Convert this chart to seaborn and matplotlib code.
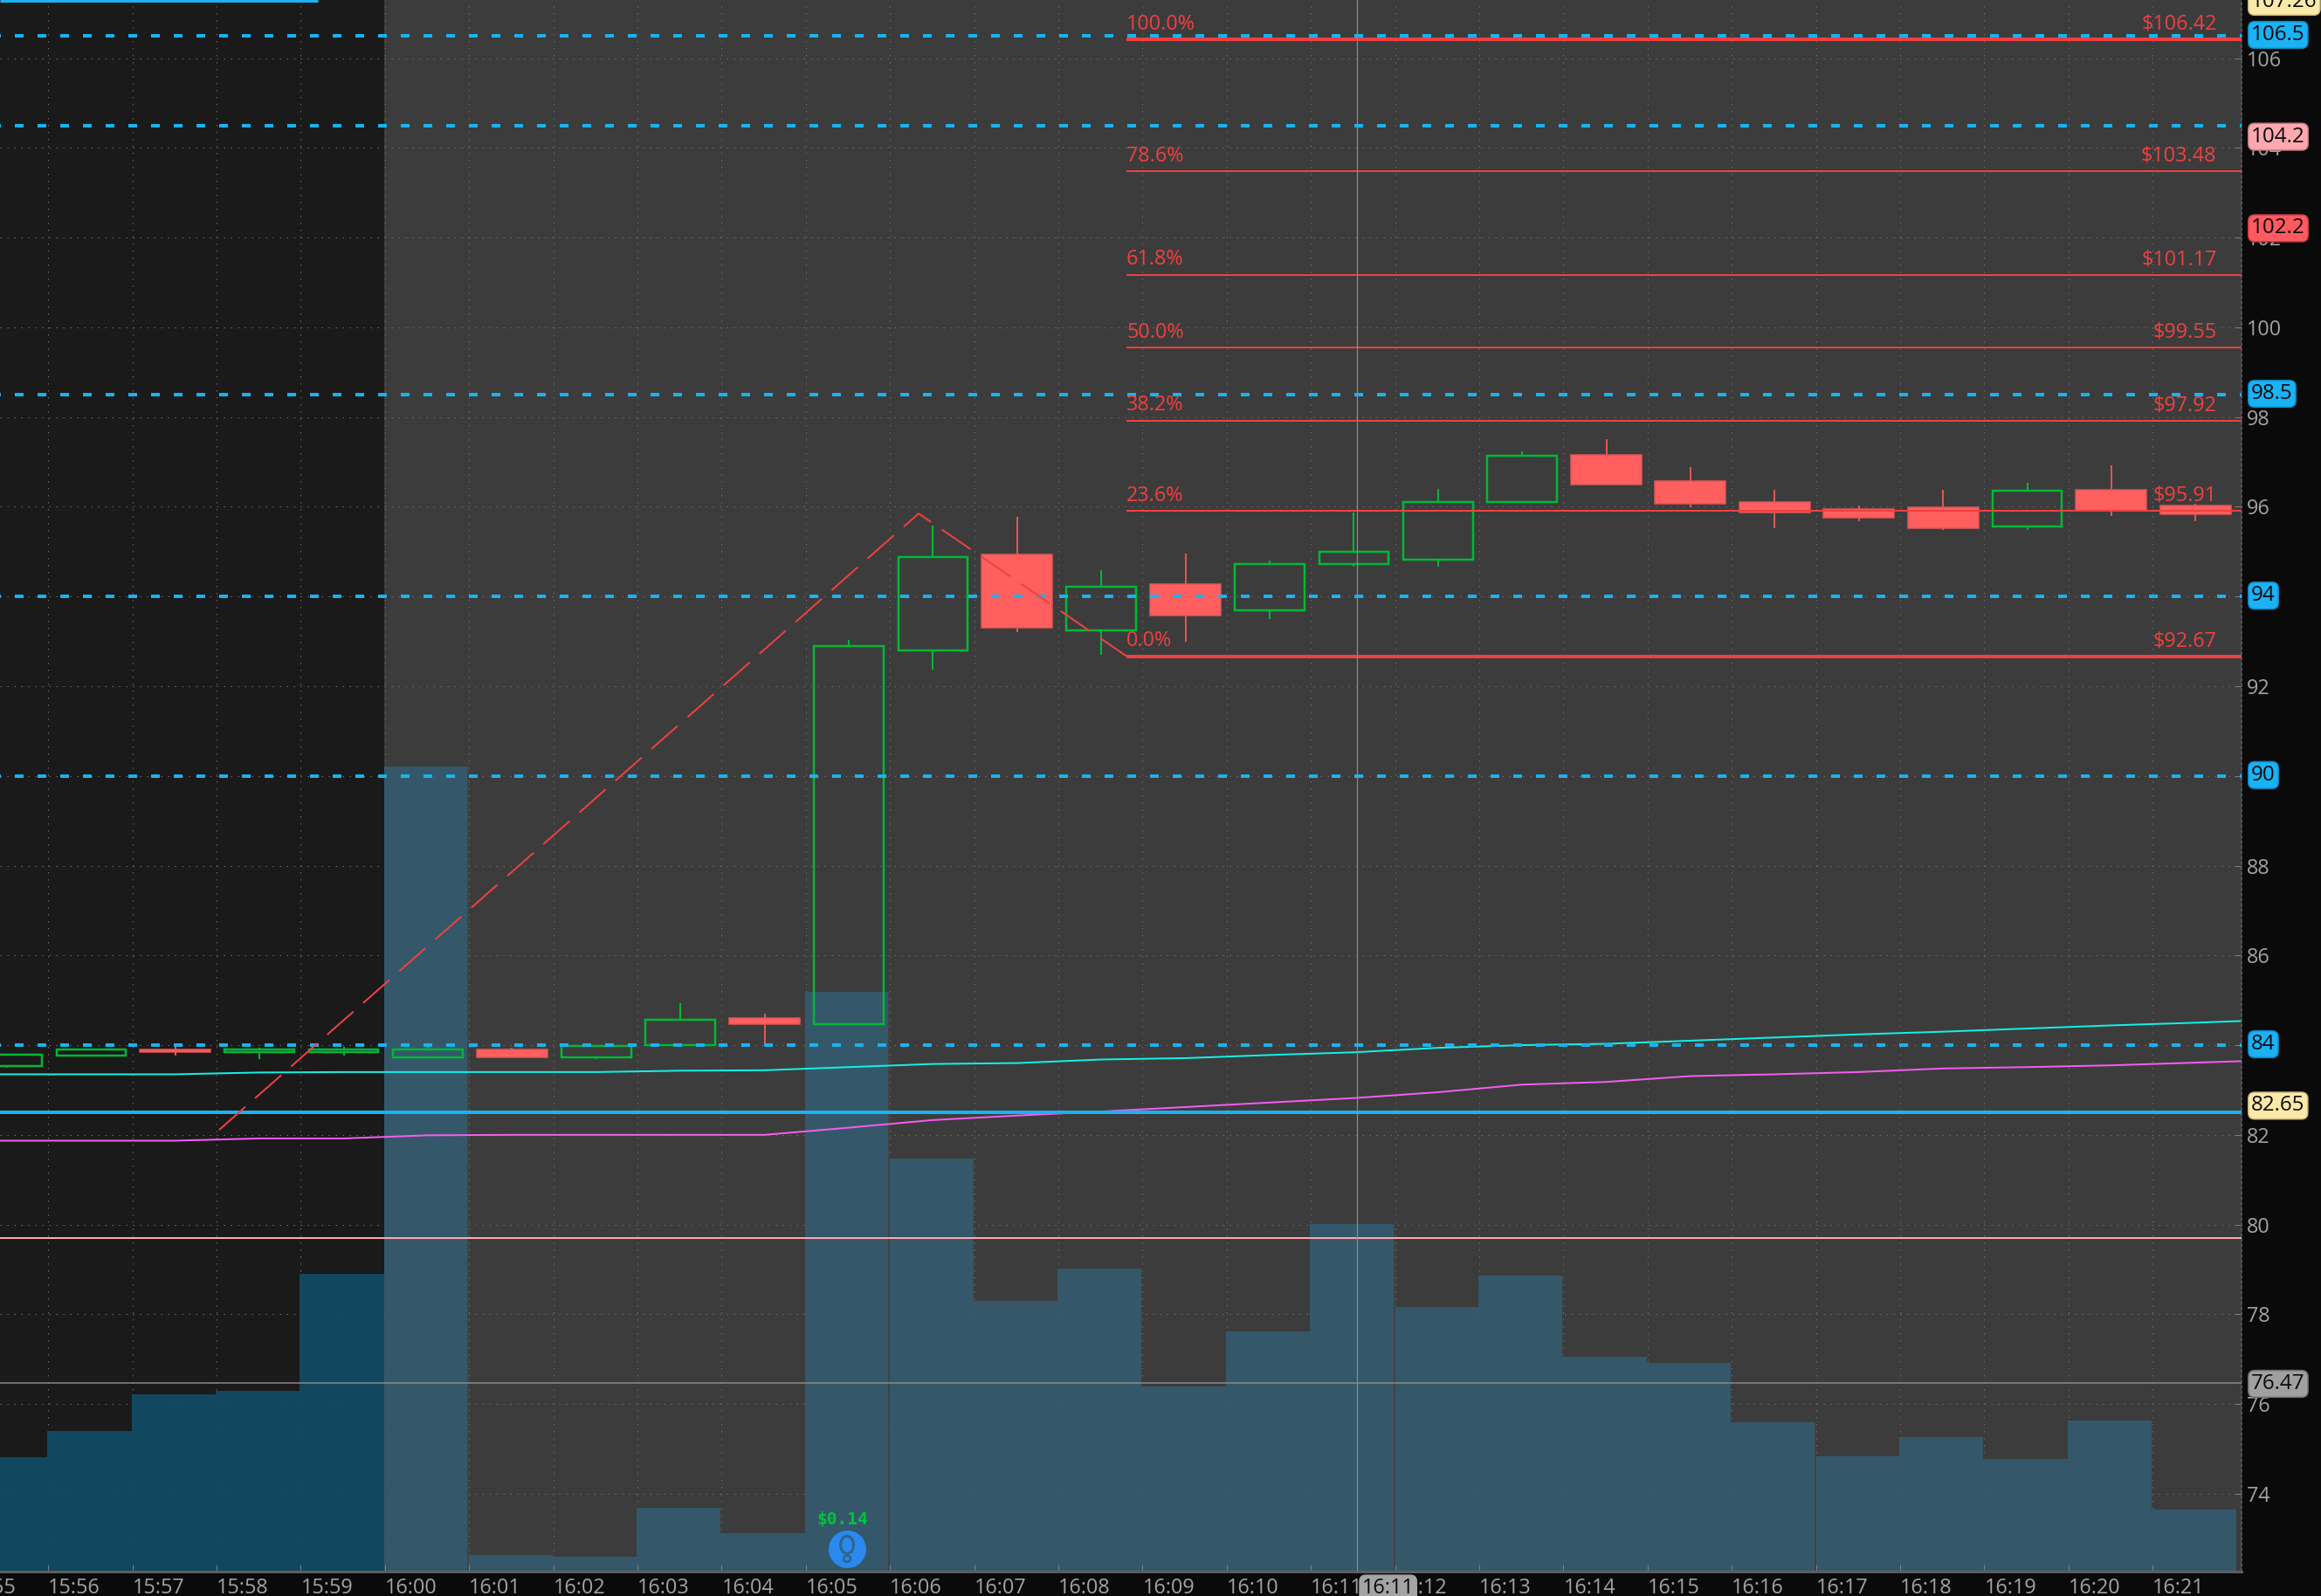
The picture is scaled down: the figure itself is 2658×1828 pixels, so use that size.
import numpy as np
import pandas as pd
import seaborn as sns
import matplotlib
matplotlib.use('Agg')
import matplotlib.pyplot as plt
from matplotlib.patches import Ellipse

# --- DATA ---
# minutes are counted from 16:00
minutes = np.arange(-5, 22)
tick_labels = ['15:56', '15:57', '15:58', '15:59', '16:00', '16:01', '16:02', '16:03', '16:04',
               '16:05', '16:06', '16:07', '16:08', '16:09', '16:10', '16:11', '16:12', '16:13',
               '16:14', '16:15', '16:16', '16:17', '16:18', '16:19', '16:20', '16:21']

candle_open = [83.54, 83.77, 83.90, 83.84, 83.84, 83.73, 83.90, 83.73, 84.00, 84.60, 84.47, 92.80, 94.93, 93.25,
               94.27, 93.70, 94.72, 94.83, 96.11, 97.15, 96.57, 96.10, 95.95, 95.99, 95.56, 96.38, 96.03]
candle_high = [83.78, 83.90, 83.99, 83.95, 83.96, 83.98, 83.95, 84.01, 84.93, 84.70, 93.03, 95.59, 95.78, 94.58,
               94.96, 94.81, 95.87, 96.40, 97.24, 97.50, 96.88, 96.38, 96.03, 96.38, 96.53, 96.92, 96.07]
candle_low = [83.50, 83.77, 83.77, 83.68, 83.76, 83.73, 83.73, 83.68, 84.00, 84.03, 84.47, 92.37, 93.20, 92.70,
              92.99, 93.49, 94.66, 94.67, 96.11, 96.49, 95.99, 95.52, 95.68, 95.48, 95.48, 95.79, 95.68]
candle_close = [83.78, 83.90, 83.84, 83.90, 83.90, 83.90, 83.73, 83.98, 84.56, 84.47, 92.90, 94.88, 93.30, 94.22,
                93.57, 94.72, 94.99, 96.10, 97.14, 96.49, 96.06, 95.87, 95.76, 95.52, 96.36, 95.91, 95.83]

volume = [77, 95, 120, 122, 201, 544, 11, 10, 43, 26, 392, 279, 183, 205,
          125, 162, 235, 179, 200, 145, 141, 101, 78, 91, 76, 102, 42]

study_minutes = np.arange(-6, 23)
study_cyan = [83.35, 83.35, 83.35, 83.35, 83.39, 83.40, 83.40, 83.40, 83.40, 83.43, 83.44, 83.51, 83.58, 83.60, 83.68,
              83.71, 83.78, 83.84, 83.94, 84.00, 84.03, 84.10, 84.17, 84.24, 84.30, 84.37, 84.44, 84.50, 84.57]
study_magenta = [81.87, 81.87, 81.87, 81.87, 81.92, 81.92, 81.99, 82.00, 82.00, 82.00, 82.00, 82.16, 82.33, 82.43, 82.52,
                 82.62, 82.72, 82.82, 82.95, 83.12, 83.18, 83.31, 83.35, 83.40, 83.48, 83.51, 83.55, 83.61, 83.67]

trend_x = [-2.48, 5.83, 8.30]
trend_y = [82.11, 95.85, 92.67]

fib_pct = ['100.0%', '78.6%', '61.8%', '50.0%', '38.2%', '23.6%', '0.0%']
fib_price = [106.42, 103.48, 101.17, 99.55, 97.92, 95.91, 92.67]
fib_start = 8.30

dashed_levels = [106.5, 104.5, 98.5, 94, 90, 84]
price_ticks = list(range(74, 108, 2))

badge_values = ['107.26', '106.5', '104.2', '102.2', '98.5', '94', '90', '84', '82.65', '76.47']
badge_prices = [107.26, 106.52, 104.25, 102.21, 98.52, 94.02, 90.02, 84.02, 82.65, 76.45]
badge_colors = ['#fbe9a9', '#1ab2f5', '#ffa8ae', '#ff5a5f', '#1ab2f5', '#1ab2f5', '#1ab2f5', '#1ab2f5', '#fbe9a9', '#a0a0a0']
badge_edges = ['#c8b67a', '#0f86c0', '#c07c82', '#c04046', '#0f86c0', '#0f86c0', '#0f86c0', '#0f86c0', '#c8b67a', '#6e6e6e']

# --- STYLE ---
PANE = '#3c3c3c'
AFTER = '#1a1a1a'
PANEL = '#0a0a0a'
GREEN = '#00b835'
RED = '#ff5f5f'
RED_EDGE = '#e05656'
FIB = '#f04040'
BLUE = '#1ab2f0'
GREY_TEXT = '#a3a3a3'

px = 0.72  # one pixel in points at dpi 100
XMIN, XMAX = -5.083, 21.546
YMIN, YMAX = 72.265, 107.298

sns.set_style('dark')
plt.rcParams['font.family'] = ['Open Sans', 'DejaVu Sans']

fig = plt.figure(figsize=(26.58, 18.28), dpi=100, facecolor=PANEL)
pos = [0, 28 / 1828, 2567 / 2658, 1800 / 1828]

# three layers: grid + background, volume, price
ax_bg = fig.add_axes(pos, zorder=0, facecolor=PANE)
ax_vol = fig.add_axes(pos, zorder=1, facecolor='none')
ax = fig.add_axes(pos, zorder=2, facecolor='none')

# --- background and grid ---
session_edge = -0.52
ax_bg.axvspan(XMIN, session_edge, color=AFTER, lw=0)
grid_style = dict(color='#6c6c6c', lw=1 * px, linestyle=(0, (1.5, 6.5)))
for p in price_ticks:
    ax_bg.axhline(p, **grid_style)
tick_pos = np.arange(-4, 22) - 0.51
for t in tick_pos:
    ax_bg.axvline(t, **grid_style)
ax_bg.set_xlim(XMIN, XMAX)
ax_bg.set_ylim(YMIN, YMAX)
ax_bg.set_xticks([])
ax_bg.set_yticks([])
for s in ax_bg.spines.values():
    s.set_visible(False)

# --- volume ---
df_vol = pd.DataFrame({'minute': minutes - 0.02, 'volume': volume,
                       'session': ['after' if m < 0 else 'regular' for m in minutes]})
sns.barplot(data=df_vol, x='minute', y='volume', hue='session', native_scale=True, dodge=False,
            palette={'after': '#114d67', 'regular': '#345c6f'}, width=1, saturation=1, alpha=0.9,
            linewidth=0, legend=False, ax=ax_vol)
for k in [0, 5, 11, 16]:
    idx = k + 5
    ax_vol.vlines(k + 0.48, 0, max(volume[idx], volume[idx + 1]), color='#424242', lw=2 * px)
ax_vol.set_xlim(XMIN, XMAX)
ax_vol.set_ylim(0, 1062)
ax_vol.axis('off')

# --- studies ---
sns.lineplot(x=study_minutes, y=study_cyan, color='#12f0e6', lw=2 * px, errorbar=None, ax=ax)
sns.lineplot(x=study_minutes, y=study_magenta, color='#f55cf0', lw=2 * px, errorbar=None, ax=ax)

# --- candles ---
for m, o, h, l, c in zip(minutes, candle_open, candle_high, candle_low, candle_close):
    up = c >= o
    top, bot = max(o, c), min(o, c)
    col = GREEN if up else RED_EDGE
    ax.vlines(m, top, h, color=col, lw=2 * px, zorder=3)
    ax.vlines(m, l, bot, color=col, lw=2 * px, zorder=3)
    if up:
        ax.bar(m, top - bot, 0.825, bottom=bot, facecolor='none', edgecolor=GREEN, lw=2.5 * px, zorder=3)
    else:
        ax.bar(m, top - bot, 0.84, bottom=bot, facecolor=RED, edgecolor=RED_EDGE, lw=1.5 * px, zorder=3)

# --- levels ---
ax.axhline(82.5, color=BLUE, lw=4 * px, zorder=4)
ax.axhline(79.7, color='#ffa8ae', lw=2 * px, zorder=4)
ax.axhline(76.47, color='#8a8a8a', lw=1.5 * px, zorder=4)
ax.hlines(107.27, XMIN, -1.31, color=BLUE, lw=3 * px, zorder=4)
for lvl in dashed_levels:
    ax.axhline(lvl, color=BLUE, lw=4 * px, linestyle=(2.25, (2.5, 4)), dash_capstyle='butt', zorder=5)

# --- fibonacci ---
ax.plot(trend_x, trend_y, color=FIB, lw=2 * px, linestyle=(0, (20, 7.5)), dash_capstyle='butt', zorder=6)
for pct, p in zip(fib_pct, fib_price):
    thick = 4 if pct in ('100.0%', '0.0%') else 2
    ax.hlines(p, fib_start, XMAX, color=FIB, lw=thick * px, zorder=6)
    ax.annotate(pct, (fib_start, p), xytext=(0, 12.5), textcoords='offset points', color=FIB,
                fontsize=16.8, ha='left', va='center', zorder=6)
    ax.annotate(f'${p:.2f}', (21.25, p), xytext=(0, 12.5), textcoords='offset points', color=FIB,
                fontsize=16.8, ha='right', va='center', zorder=6)

# crosshair
crosshair = 11.04
ax.axvline(crosshair, color='#8c8c8c', lw=1.2 * px, zorder=7)

# dividend-ish marker at the bottom
marker_minute = 4.98
marker_price = 72.78
ax.scatter([marker_minute], [marker_price], s=(43 * px) ** 2, color='#2a88ee', lw=0, zorder=8)
glyph = '#2d6488'
ax.add_patch(Ellipse((marker_minute, marker_price + 0.08), 15 / 96.4, 20 / 51.38, fc='none', ec=glyph, lw=3 * px, zorder=9))
ax.add_patch(Ellipse((marker_minute, marker_price - 0.23), 8 / 96.4, 7 / 51.38, fc='none', ec=glyph, lw=2.5 * px, zorder=9))
ax.annotate('$0.14', (marker_minute, marker_price), xytext=(-4, 24), textcoords='offset points', color='#00c43a',
            fontsize=14, family='DejaVu Sans Mono', fontweight='bold', ha='center', va='center', zorder=9)

# --- axes ---
ax.set_xlim(XMIN, XMAX)
ax.set_ylim(YMIN, YMAX)
ax.grid(False)
ax.set_xlabel('')
ax.set_ylabel('')
ax.yaxis.tick_right()
ax.set_yticks(price_ticks)
ax.set_yticklabels([str(p) for p in price_ticks])
ax.set_xticks(tick_pos)
ax.set_xticklabels(tick_labels, ha='left')
ax.tick_params(axis='y', direction='in', length=8 * px, width=1 * px, color='#808080', labelcolor=GREY_TEXT,
               labelsize=16.8, pad=4, right=True, labelright=True, left=False, labelleft=False)
ax.tick_params(axis='x', direction='in', length=8 * px, width=1 * px, color='#808080', labelcolor=GREY_TEXT,
               labelsize=16.8, pad=5, bottom=True)
for name, sp in ax.spines.items():
    sp.set_visible(name in ('bottom', 'right'))
ax.spines['bottom'].set_color('#5e5e5e')
ax.spines['bottom'].set_linewidth(3 * px)
ax.spines['right'].set_color('#606060')
ax.spines['right'].set_linewidth(1.5 * px)
ax.spines['right'].set_linestyle((0, (2, 2)))

# cut off label at the left edge
ax.annotate('15:55', (-5.51, YMIN), xytext=(0, -5), textcoords='offset points', color=GREY_TEXT, fontsize=16.8,
            ha='left', va='top', annotation_clip=False)

# --- badges ---
for txt, p, c, e in zip(badge_values, badge_prices, badge_colors, badge_edges):
    ax.annotate(txt, (1, p), xycoords=('axes fraction', 'data'), xytext=(8, 0), textcoords='offset points',
                color='#0a0a0a', fontsize=17.4, ha='left', va='center', annotation_clip=False,
                bbox=dict(boxstyle='round,pad=0.14,rounding_size=0.3', fc=c, ec=e, lw=1.5 * px), zorder=10)

ax.annotate('16:11', (crosshair, YMIN), xytext=(4, -5), textcoords='offset points', color='#0a0a0a', fontsize=16.8,
            ha='left', va='top', annotation_clip=False,
            bbox=dict(boxstyle='round,pad=0.12,rounding_size=0.3', fc='#a4a4a4', ec='#a4a4a4'), zorder=10)

fig.savefig('out.png', dpi=100, facecolor=fig.get_facecolor())
